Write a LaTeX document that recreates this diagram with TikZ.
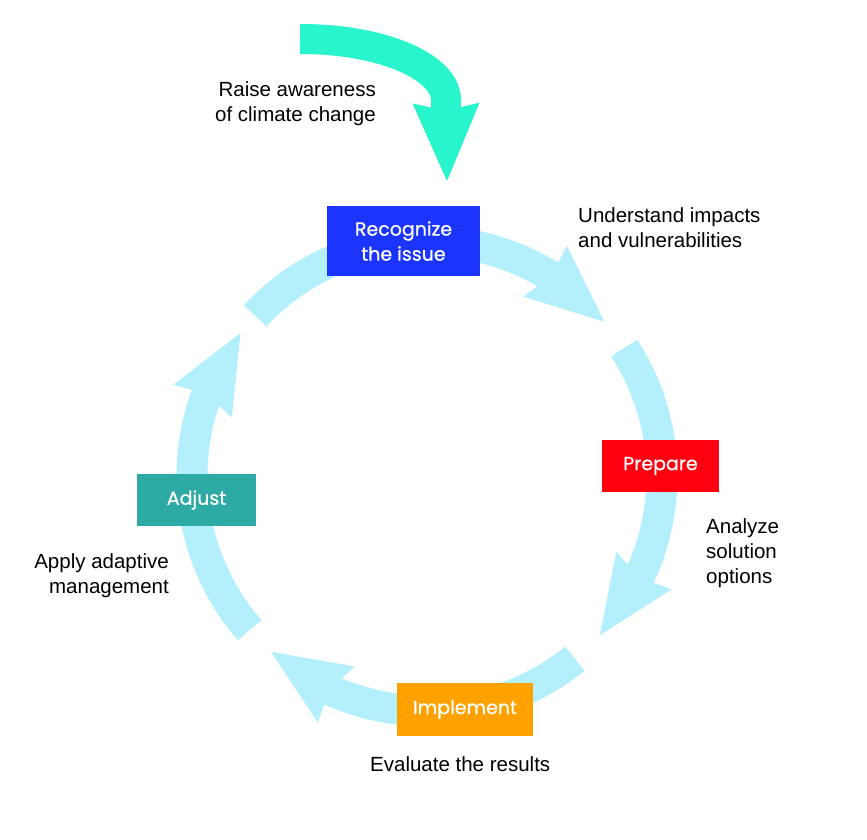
\documentclass[tikz,border=0pt]{standalone}
\usepackage{fontspec}
\setmainfont{Liberation Sans}
\newfontfamily\boxfont[FakeBold=0.6]{Poppins}
\usetikzlibrary{arrows.meta,bending}
\definecolor{ringc}{RGB}{180,240,252}
\definecolor{greenc}{RGB}{41,245,204}
\definecolor{bluec}{RGB}{27,53,255}
\definecolor{redc}{RGB}{255,0,17}
\definecolor{orangec}{RGB}{255,162,0}
\definecolor{tealc}{RGB}{46,170,165}
\tikzset{
  bigtip/.style={-{Stealth[length=78pt,width=67pt,inset=8pt,flex,line width=0pt]}},
  ringarc/.style={line width=31pt,draw=ringc,fill=none,line cap=butt,bigtip},
  stagebox/.style={inner sep=0pt,text=white,align=center,
    font=\boxfont\fontsize{19}{25}\selectfont},
  note/.style={inner sep=0pt,text=black,font=\fontsize{20.5}{25}\selectfont}
}
\begin{document}
\begin{tikzpicture}[x=1pt,y=1pt]
\useasboundingbox (0,0) rectangle (867,840);
\coordinate (O) at (427,364);
% ring arcs
\draw[ringarc] (O) ++(137:235) coordinate (a1s) arc[start angle=137,end angle=41,radius=235pt] coordinate (a1e);
\draw[ringarc] (O) ++(33:235) coordinate (a2s) arc[start angle=33,end angle=-42.6,radius=235pt] coordinate (a2e);
\draw[ringarc] (O) ++(-51:235) coordinate (a3s) arc[start angle=-51,end angle=-131.6,radius=235pt] coordinate (a3e);
\draw[ringarc] (O) ++(-139:235) coordinate (a4s) arc[start angle=-139,end angle=-217.5,radius=235pt] coordinate (a4e);
% green arrow
\coordinate (g0) at (300,801);
\coordinate (g1) at (446,740);
\coordinate (gtip) at (447,659);
\draw[line width=30pt,draw=greenc,line cap=butt,bigtip]
  (g0) .. controls (385,801) and (446,772) .. (g1) -- (gtip);
% stage boxes
\node[stagebox,fill=bluec,minimum width=153pt,minimum height=70pt] (rec) at (403.5,599) {Recognize\\the issue};
\node[stagebox,fill=redc,minimum width=117pt,minimum height=52pt] (prep) at (660.5,374) {Prepare};
\node[stagebox,fill=orangec,minimum width=136pt,minimum height=53pt] (impl) at (465,130.5) {Implement};
\node[stagebox,fill=tealc,minimum width=119pt,minimum height=52pt] (adj) at (196.5,340) {Adjust};
% notes
\node[note,align=right,anchor=east] (n1) at (376,736) {Raise awareness\\of climate change};
\node[note,align=left,anchor=west] (n2) at (578,612) {Understand impacts\\and vulnerabilities};
\node[note,align=left,anchor=west] (n3) at (706,287) {Analyze\\solution\\options};
\node[note,align=right,anchor=east] (n4) at (169,264) {Apply adaptive\\management};
\node[note,anchor=base west] (n5) at (370,68) {Evaluate the results};
\end{tikzpicture}
\end{document}
